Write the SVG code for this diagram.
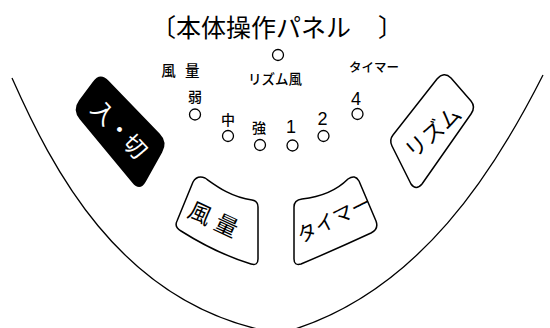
<svg xmlns="http://www.w3.org/2000/svg" width="550" height="328" viewBox="0 0 550 328">
<style>
.jp{font-family:"Noto Sans CJK JP","Noto Sans",sans-serif;fill:#000}
.lbl{font-weight:500}
.num{font-family:"Liberation Sans",Arial,sans-serif;fill:#000}
.led{fill:#fff;stroke:#000;stroke-width:1.3}
.btn{fill:#fff;stroke:#000;stroke-width:1.5;stroke-linejoin:round}
.body{fill:none;stroke:#000;stroke-width:1.3}
</style>
<rect width="550" height="328" fill="#fff"/>
<g id="body-outline">
<path class="body" d="M12,78 C52,168 118,298 262,330"/>
<path class="body" d="M543,75 C495,170 420,290 292,330"/>
</g>
<g id="title">
<text class="jp" x="151" y="37" font-size="25">〔本体操作パネル<tspan dx="27">〕</tspan></text>
</g>
<g id="indicators">
<text class="jp lbl" x="182" y="76" font-size="14.5" letter-spacing="3" text-anchor="middle">風 量</text>
<circle class="led" cx="278" cy="55" r="5.5"/>
<text class="jp lbl" x="275" y="84" font-size="13.5" text-anchor="middle">リズム風</text>
<text class="jp lbl" x="374" y="72" font-size="12.5" text-anchor="middle">タイマー</text>
<text class="jp lbl" x="195" y="102" font-size="14" text-anchor="middle">弱</text>
<circle class="led" cx="195" cy="114.5" r="5.5"/>
<text class="jp lbl" x="228" y="125" font-size="14" text-anchor="middle">中</text>
<circle class="led" cx="228" cy="136" r="5.5"/>
<text class="jp lbl" x="259" y="133" font-size="14" text-anchor="middle">強</text>
<circle class="led" cx="260" cy="145" r="5.5"/>
<text class="num" x="291" y="133" font-size="18" text-anchor="middle">1</text>
<circle class="led" cx="292.5" cy="145.5" r="5.5"/>
<text class="num" x="322.5" y="125" font-size="18" text-anchor="middle">2</text>
<circle class="led" cx="323.5" cy="136" r="5.5"/>
<text class="num" x="356" y="105" font-size="18" text-anchor="middle">4</text>
<circle class="led" cx="357.5" cy="114" r="5.5"/>
</g>
<g id="btn-power">
<path fill="#000" d="M92.9,81.7 Q100,72 108.4,80.6 L159.6,133.4 Q168,142 162.1,152.5 L145.9,181.5 Q140,192 132.3,182.8 L79.7,119.2 Q72,110 79.1,100.3 Z"/>
<text class="jp" transform="translate(119,130) rotate(47)" x="0" y="8" font-size="23" text-anchor="middle" style="fill:#fff">入・切</text>
</g>
<g id="btn-fan">
<path class="btn" d="M205,178 C215,185 230,197 252,200 Q258,201 258,207 L258,259 Q258,266 251,264 C225,256 200,243 181,231 Q174,227 177,221 L193,182 Q197,175 205,178 Z"/>
<text class="jp" transform="translate(216,221) rotate(25)" x="0" y="8" font-size="23" letter-spacing="6" text-anchor="middle">風量</text>
</g>
<g id="btn-timer">
<path class="btn" d="M302,199 C320,197 335,192 348,179 Q355,174 359,181 L376,221 Q379,229 371,233 C345,245 320,256 301,264 Q294,266 294,259 L294,207 Q294,200 302,199 Z"/>
<text class="jp" transform="translate(334,219) rotate(-27)" x="0" y="7" font-size="20" text-anchor="middle">タイマー</text>
</g>
<g id="btn-rhythm">
<path class="btn" d="M437,79 Q444,71 451,78 L471,101 Q476,107 471,114 L422,184 Q416,191 411,184 L392,146 Q389,140 393,135 Z"/>
<text class="jp" transform="translate(433,132) rotate(-41)" x="0" y="8" font-size="22" text-anchor="middle">リズム</text>
</g>
</svg>
